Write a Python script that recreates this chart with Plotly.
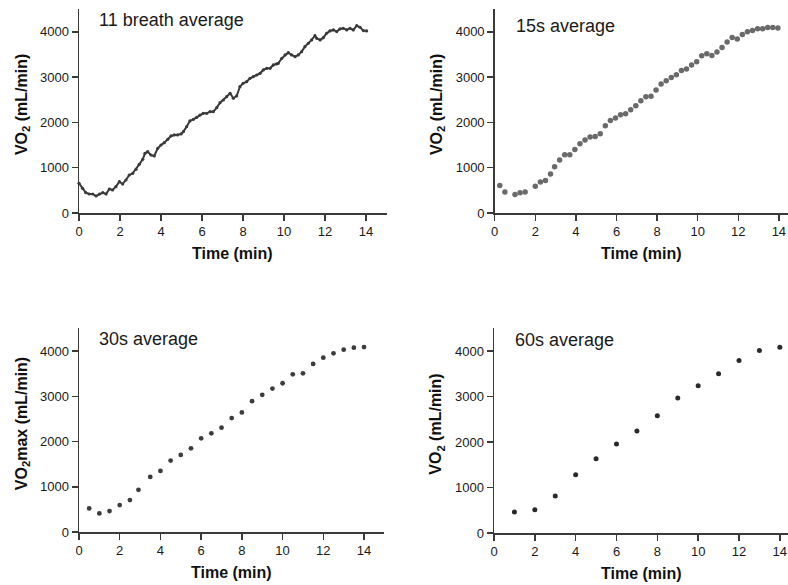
import plotly.graph_objects as go

# ---- data ----
t_breath = [0.0, 0.17, 0.33, 0.5, 0.67, 0.83, 1.0, 1.16, 1.32, 1.48, 1.64, 1.8, 1.97, 2.13, 2.29, 2.45,
            2.62, 2.78, 2.94, 3.11, 3.22, 3.35, 3.51, 3.67, 3.84, 4.0, 4.16, 4.33, 4.49, 4.65, 4.81, 4.98,
            5.09, 5.25, 5.41, 5.58, 5.74, 5.9, 6.06, 6.23, 6.39, 6.55, 6.72, 6.88, 7.04, 7.2, 7.37, 7.53,
            7.69, 7.85, 8.01, 8.18, 8.34, 8.5, 8.67, 8.83, 8.99, 9.16, 9.32, 9.48, 9.64, 9.72, 9.89, 10.05,
            10.21, 10.37, 10.54, 10.7, 10.86, 11.02, 11.19, 11.35, 11.51, 11.6, 11.76, 11.92, 12.08, 12.24,
            12.41, 12.57, 12.73, 12.89, 13.06, 13.22, 13.38, 13.55, 13.71, 13.87, 14.03]
vo2_breath = [655, 545, 449, 419, 419, 375, 419, 449, 419, 530, 508, 581, 691, 640, 728, 839,
              876, 964, 1075, 1185, 1318, 1353, 1280, 1258, 1428, 1501, 1552, 1627, 1700, 1722, 1722, 1745,
              1795, 1905, 2031, 2068, 2112, 2163, 2200, 2200, 2236, 2236, 2325, 2435, 2494, 2568, 2642, 2532,
              2583, 2788, 2863, 2899, 2973, 3009, 3046, 3083, 3157, 3194, 3194, 3267, 3290, 3304, 3414, 3488,
              3539, 3488, 3451, 3488, 3561, 3671, 3746, 3819, 3914, 3856, 3819, 3870, 3967, 4018,
              4040, 4003, 4062, 4077, 4040, 4077, 4040, 4135, 4099, 4025, 4018]

t_15s = [0.25, 0.5, 1.0, 1.25, 1.5, 2.0, 2.25, 2.5, 2.75, 2.95, 3.2, 3.45, 3.7, 3.95, 4.2, 4.45, 4.7,
         4.95, 5.2, 5.45, 5.7, 5.95, 6.2, 6.45, 6.7, 6.95, 7.2, 7.45, 7.7, 7.95, 8.2, 8.45, 8.7, 8.95,
         9.2, 9.45, 9.7, 9.95, 10.2, 10.45, 10.7, 10.95, 11.2, 11.45, 11.7, 11.95, 12.2, 12.45, 12.7,
         12.95, 13.2, 13.45, 13.7, 13.95]
vo2_15s = [607, 463, 407, 449, 463, 592, 682, 715, 863, 1018, 1170, 1285, 1285, 1404, 1529, 1610, 1676,
           1691, 1750, 1926, 2044, 2096, 2169, 2191, 2279, 2368, 2478, 2566, 2574, 2713, 2846, 2919, 2993, 3051,
           3147, 3176, 3265, 3338, 3471, 3515, 3478, 3551, 3654, 3772, 3875, 3838, 3941, 4000, 4029,
           4066, 4066, 4096, 4096, 4081]

t_30s = [0.5, 1.0, 1.5, 2.0, 2.5, 2.92, 3.5, 4.0, 4.5, 5.0, 5.5, 6.0, 6.5, 7.0, 7.5, 8.0, 8.5, 9.0,
         9.5, 10.0, 10.5, 11.0, 11.5, 12.0, 12.5, 13.0, 13.5, 14.0]
vo2_30s = [521, 411, 462, 594, 705, 932, 1218, 1350, 1578, 1703, 1850, 2070, 2180, 2305, 2517, 2642,
           2892, 3031, 3171, 3288, 3486, 3508, 3714, 3853, 3949, 4029, 4073, 4088]

t_60s = [1, 2, 3, 4, 5, 6, 7, 8, 9, 10, 11, 12, 13, 14]
vo2_60s = [461, 512, 812, 1280, 1631, 1960, 2245, 2581, 2969, 3240, 3503, 3795, 4015, 4088]

x_ticks = [0, 2, 4, 6, 8, 10, 12, 14]
y_ticks = [0, 1000, 2000, 3000, 4000]

panel_titles = ["11 breath average", "15s average", "30s average", "60s average"]
y_titles = ["<b>VO<sub>2</sub> (mL/min)</b>", "<b>VO<sub>2</sub> (mL/min)</b>",
            "<b>VO<sub>2</sub>max (mL/min)</b>", "<b>VO<sub>2</sub> (mL/min)</b>"]
x_title = "<b>Time (min)</b>"

W, H = 788, 585
FONT = "Liberation Sans, Arial, Helvetica, sans-serif"

fig = go.Figure()

# panel geometry in pixels: (x0, x1, xmax, y_bottom, y_top)
panels = [
    (79, 386.5, 15.0, 213, 9.1),
    (494.7, 788, 14.45, 213, 9.1),
    (79, 384.4, 15.0, 532, 328.4),
    (494, 788, 14.4, 533, 328.4),
]

series = [
    (t_breath, vo2_breath, dict(mode="lines+markers", line=dict(color="#3a3a3a", width=2.0),
                                marker=dict(size=3.2, color="#3a3a3a"))),
    (t_15s, vo2_15s, dict(mode="markers", marker=dict(size=5.5, color="#6a6a6a"))),
    (t_30s, vo2_30s, dict(mode="markers", marker=dict(size=4.8, color="#3c3c3c"))),
    (t_60s, vo2_60s, dict(mode="markers", marker=dict(size=5, color="#2a2a2a"))),
]

title_pos = [(97, 20), (514, 26), (97, 339), (513, 340)]
ytitle_x = [22, 437, 22, 437]

layout = dict(width=W, height=H, margin=dict(l=0, r=0, t=0, b=0, autoexpand=False),
              paper_bgcolor="white", plot_bgcolor="white", showlegend=False,
              font=dict(family=FONT, color="#1a1a1a"))
annotations = []

for i, ((x0, x1, xmax, yb, yt), (xs, ys, style)) in enumerate(zip(panels, series)):
    n = "" if i == 0 else str(i + 1)
    xa, ya = "x" + n, "y" + n
    fig.add_trace(go.Scatter(x=xs, y=ys, xaxis=xa, yaxis=ya, hoverinfo="skip", cliponaxis=False, **style))
    common = dict(showgrid=False, zeroline=False, showline=True, linecolor="#3a3a3a", linewidth=1.5,
                  ticks="outside", ticklen=6, tickwidth=1.5, tickcolor="#3a3a3a",
                  tickfont=dict(size=13, family=FONT, color="#1a1a1a"))
    layout["xaxis" + n] = dict(domain=[x0 / W, x1 / W], range=[0, xmax], tickvals=x_ticks,
                               anchor=ya, **common)
    layout["yaxis" + n] = dict(domain=[1 - yb / H, 1 - yt / H], range=[0, 4500], tickvals=y_ticks,
                               anchor=xa, **common)
    # x-axis title
    annotations.append(dict(x=(x0 + min(x1, x0 + 15 * (x1 - x0) / xmax)) / 2 / W, y=1 - (yb + 40) / H,
                            xref="paper", yref="paper", text=x_title, showarrow=False,
                            font=dict(size=16, family=FONT, color="#111"), xanchor="center", yanchor="middle"))
    # y-axis title
    annotations.append(dict(x=ytitle_x[i] / W, y=1 - ((yb + yt) / 2 - 6) / H, xref="paper", yref="paper",
                            text=y_titles[i], showarrow=False, textangle=-90,
                            font=dict(size=16, family=FONT, color="#111"), xanchor="center", yanchor="middle"))
    # panel title
    tx, ty = title_pos[i]
    annotations.append(dict(x=tx / W, y=1 - ty / H, xref="paper", yref="paper", text=panel_titles[i],
                            showarrow=False, font=dict(size=18, family=FONT, color="#1a1a1a"),
                            xanchor="left", yanchor="middle"))

layout["annotations"] = annotations
fig.update_layout(**layout)
fig.write_html("out.html", config={"displayModeBar": False, "staticPlot": True},
               post_script="document.body.style.margin='0px';document.body.style.overflow='hidden';")
